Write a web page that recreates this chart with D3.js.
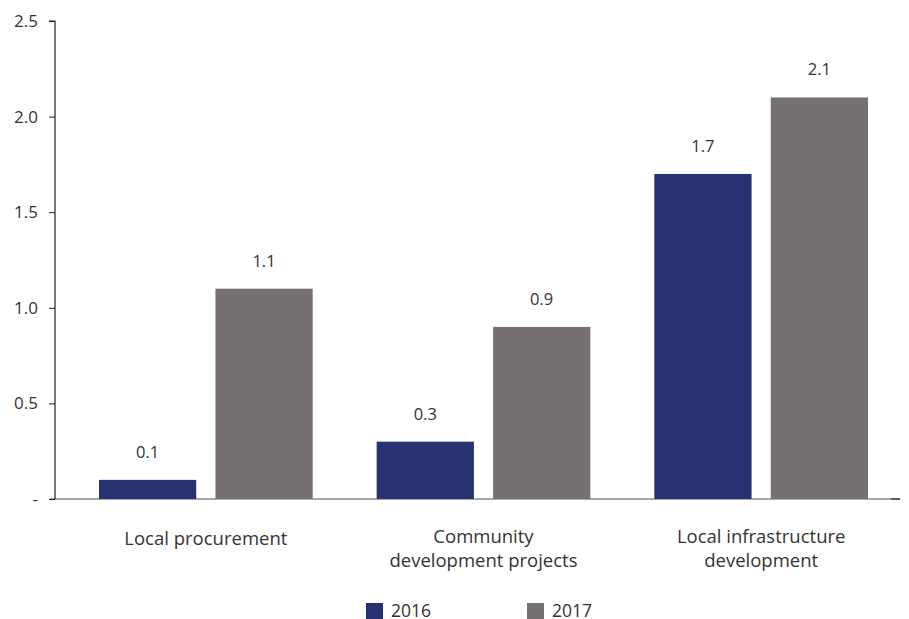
<!DOCTYPE html>
<html>
<head>
<meta charset="utf-8">
<script src="https://cdn.jsdelivr.net/npm/d3@7"></script>
<style>
  body { margin: 0; background: #fff; }
  svg { display: block; font-family: "Open Sans", "Noto Sans", sans-serif; }
</style>
</head>
<body>
<svg id="chart" width="909" height="619"></svg>
<script>
const categories = [
  ["Local procurement"],
  ["Community", "development projects"],
  ["Local infrastructure", "development"]
];
const seriesNames = ["2016", "2017"];
const values2016 = [0.1, 0.3, 1.7];
const values2017 = [1.1, 0.9, 2.1];
const yTicks = [0, 0.5, 1.0, 1.5, 2.0, 2.5];
const yTickLabels = ["-", "0.5", "1.0", "1.5", "2.0", "2.5"];
const colors = ["#283172", "#767070"];

const svg = d3.select("#chart");
const axisX = 55, plotTop = 21, plotBottom = 499;

const y = d3.scaleLinear().domain([0, 2.5]).range([plotBottom, plotTop]);
const x0 = d3.scaleBand().domain(d3.range(categories.length)).range([67, 900]).paddingInner(0).paddingOuter(0);
const x1 = d3.scaleBand().domain(seriesNames).range([32, x0.bandwidth() - 32]).paddingInner(0.165);

// baseline
svg.append("line")
  .attr("x1", axisX - 5).attr("x2", 900)
  .attr("y1", y(0)).attr("y2", y(0))
  .attr("stroke", "#8a8a8a").attr("stroke-width", 1.5);
svg.append("line")
  .attr("x1", 891).attr("x2", 900)
  .attr("y1", y(0)).attr("y2", y(0))
  .attr("stroke", "#444").attr("stroke-width", 1.5);

// bars
const data = categories.map((c, i) => ({ i, vals: [values2016[i], values2017[i]] }));
const groups = svg.selectAll("g.grp").data(data).join("g")
  .attr("class", "grp")
  .attr("transform", d => `translate(${x0(d.i)},0)`);
groups.selectAll("rect").data(d => d.vals.map((v, k) => ({ k, v }))).join("rect")
  .attr("x", d => x1(seriesNames[d.k]))
  .attr("width", x1.bandwidth())
  .attr("y", d => y(d.v))
  .attr("height", d => y(0) - y(d.v))
  .attr("fill", d => colors[d.k]);
groups.selectAll("text.val").data(d => d.vals.map((v, k) => ({ k, v }))).join("text")
  .attr("class", "val")
  .attr("x", d => x1(seriesNames[d.k]) + x1.bandwidth() / 2)
  .attr("y", d => y(d.v) - 22)
  .attr("text-anchor", "middle")
  .attr("font-size", 16.5)
  .attr("fill", "#333")
  .text(d => d3.format(".1f")(d.v));

// y axis
const yAxis = d3.axisLeft(y).tickValues(yTicks).tickFormat((d, i) => yTickLabels[i]).tickSize(6).tickPadding(11);
const ya = svg.append("g").attr("transform", `translate(${axisX},0)`).call(yAxis);
ya.select(".domain").attr("stroke", "#222").attr("stroke-width", 1.2).attr("d", `M-6,${plotTop}H0V${plotBottom}`);
ya.selectAll(".tick line").attr("stroke", "#222");
ya.selectAll(".tick text").attr("font-size", 17).attr("fill", "#333")
  .attr("font-family", "\"Open Sans\", sans-serif");

// category labels
groups.each(function (d) {
  const lines = categories[d.i];
  const t = d3.select(this).append("text")
    .attr("text-anchor", "middle")
    .attr("font-size", 18.5)
    .attr("fill", "#333")
    .attr("x", x0.bandwidth() / 2);
  lines.forEach((ln, j) => {
    t.append("tspan")
      .attr("x", x0.bandwidth() / 2)
      .attr("y", (lines.length === 1 ? 545 : 543) + j * 24)
      .text(ln);
  });
});

// legend
const legendX = [366, 527];
const lg = svg.selectAll("g.leg").data(seriesNames).join("g")
  .attr("class", "leg")
  .attr("transform", (d, i) => `translate(${legendX[i]},603)`);
lg.append("rect").attr("width", 17).attr("height", 16).attr("fill", (d, i) => colors[i]);
lg.append("text").attr("x", 25).attr("y", 14)
  .attr("font-size", 17.5).attr("fill", "#333").text(d => d);
</script>
</body>
</html>
